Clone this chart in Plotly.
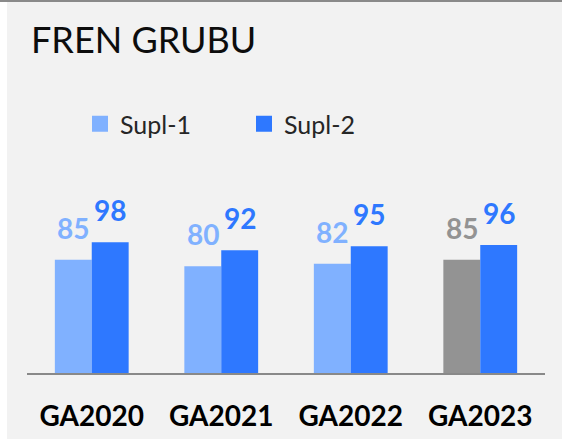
import plotly.graph_objects as go

categories = ["GA2020", "GA2021", "GA2022", "GA2023"]
supl1 = [85, 80, 82, 85]
supl2 = [98, 92, 95, 96]
series_names = ["Supl-1", "Supl-2"]
title_text = "FREN GRUBU"

LIGHT = "#80B1FF"
BLUE = "#2E78FF"
GRAY = "#939393"
supl1_colors = [LIGHT, LIGHT, LIGHT, GRAY]
supl2_colors = [BLUE] * 4

W, H = 562, 439
ML, MR, MT, MB = 27, 17, 190, 66
PW = W - ML - MR
PH = H - MT - MB
PX_PER_UNIT = 4 / 3.0
BARGAP = 0.43

def px_x(px):
    return (px - ML) / PW

def px_y(py):
    return (H - MB - py) / PH

fig = go.Figure()
fig.add_trace(go.Bar(x=categories, y=supl1, name=series_names[0],
                     marker=dict(color=supl1_colors, line=dict(width=0)),
                     showlegend=False, hoverinfo="skip"))
fig.add_trace(go.Bar(x=categories, y=supl2, name=series_names[1],
                     marker=dict(color=supl2_colors, line=dict(width=0)),
                     showlegend=False, hoverinfo="skip"))
# legend entries
for nm, col in zip(series_names, [LIGHT, BLUE]):
    fig.add_trace(go.Scatter(x=[None], y=[None], mode="markers", name=nm,
                             marker=dict(symbol="square", size=17, color=col)))

bar_px = PW / len(categories) * (1 - BARGAP) / 2
annos = []
for i, c in enumerate(categories):
    for vals, cols, sgn in ((supl1, supl1_colors, -1), (supl2, supl2_colors, 1)):
        annos.append(dict(x=c, y=vals[i], xref="x", yref="y", text=str(vals[i]),
                          showarrow=False, yanchor="bottom", xanchor="center",
                          xshift=sgn * bar_px / 2, yshift=13,
                          font=dict(family="Lato", size=28, color=cols[i], weight="bold")))

fig.update_layout(
    width=W, height=H, autosize=False,
    margin=dict(l=ML, r=MR, t=MT, b=MB, pad=0, autoexpand=False),
    paper_bgcolor="#F2F2F2", plot_bgcolor="#F2F2F2",
    barmode="group", bargap=BARGAP, bargroupgap=0,
    title=dict(text=title_text, xref="container", yref="container",
               x=31 / W, xanchor="left", y=1 - 40 / H, yanchor="middle",
               font=dict(family="Lato", size=36, color="#0D0D0D")),
    legend=dict(orientation="h", x=px_x(80), xanchor="left", y=px_y(124), yanchor="middle",
                font=dict(family="Lato", size=25, color="#262626"),
                bgcolor="rgba(0,0,0,0)", entrywidth=119, itemwidth=30),
    xaxis=dict(showline=True, linecolor="#898989", linewidth=2, showgrid=False,
               zeroline=False, ticks="", ticklabelstandoff=17, automargin=False,
               tickfont=dict(family="Lato", size=28, color="#000000", weight="bold")),
    yaxis=dict(visible=False, range=[0, PH / PX_PER_UNIT], showgrid=False,
               zeroline=False, automargin=False),
    annotations=annos,
    shapes=[
        dict(type="rect", xref="paper", yref="paper", x0=px_x(0), x1=px_x(7),
             y0=px_y(H), y1=px_y(0), fillcolor="#FFFFFF", line=dict(width=0), layer="below"),
        dict(type="line", xref="paper", yref="paper", x0=px_x(0), x1=px_x(W),
             y0=px_y(1), y1=px_y(1), line=dict(color="#8A8A8A", width=2)),
    ],
    showlegend=True,
)

fig.write_html("out.html", post_script="document.body.style.margin='0';",
               config={"displayModeBar": False})
